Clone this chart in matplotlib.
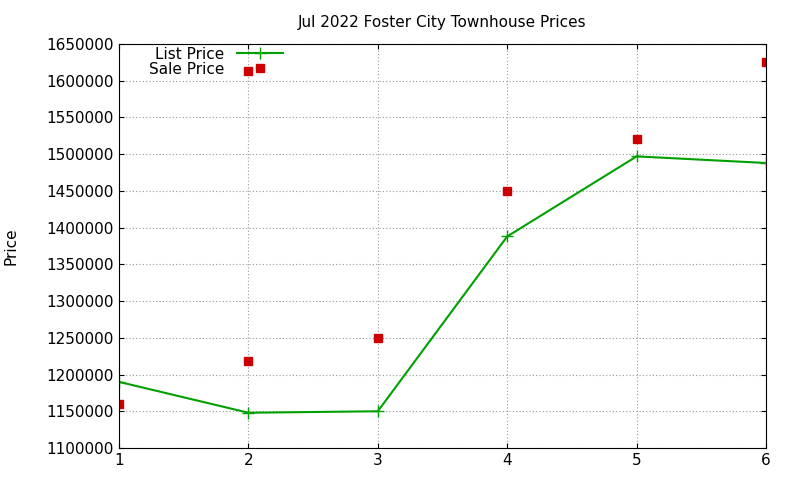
import matplotlib
matplotlib.use("Agg")
import matplotlib.pyplot as plt

list_x = [1, 2, 3, 4, 5, 6]
list_price = [1190000, 1148000, 1150000, 1388000, 1497000, 1488000]
sale_x = [1, 2, 2, 3, 4, 5, 6]
sale_price = [1160000, 1613000, 1219000, 1250000, 1450000, 1520000, 1625000]
yticks = list(range(1100000, 1650001, 50000))

fig = plt.figure(figsize=(8, 4.8), dpi=100)
ax = fig.add_axes([119 / 800, 32 / 480, 647 / 800, 404 / 480])

ax.plot(list_x, list_price, color="#00a000", marker="+", markersize=8,
        linewidth=1.5, label="List Price")
ax.plot(sale_x, sale_price, color="#cc0000", marker="s", markersize=6,
        linestyle="none", label="Sale Price")

ax.set_xlim(1, 6)
ax.set_ylim(1100000, 1650000)
ax.set_xticks(list_x)
ax.set_yticks(yticks)
ax.set_yticklabels([str(v) for v in yticks])
ax.tick_params(direction="in", labelsize=11, top=True, right=True)
ax.grid(True, color="#999999", linestyle=(0, (1, 2)), linewidth=0.8)
ax.set_title("Jul 2022 Foster City Townhouse Prices", fontsize=11, pad=12)
ax.set_ylabel("Price", fontsize=11, labelpad=20)

leg = ax.legend(loc="upper left", bbox_to_anchor=(0.03, 1.02), frameon=False,
                fontsize=11, markerfirst=False, handlelength=3, numpoints=1,
                borderaxespad=0.3, labelspacing=0.0)
for t in leg.get_texts():
    t.set_ha("right")

fig.savefig("out.png")
